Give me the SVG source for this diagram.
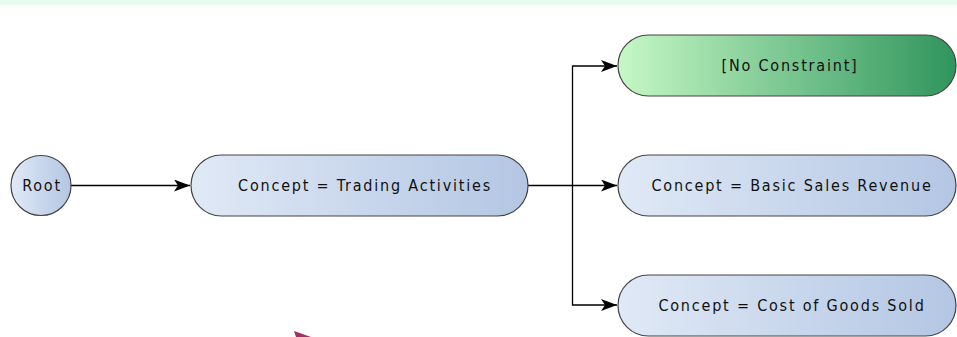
<svg xmlns="http://www.w3.org/2000/svg" width="957" height="337" viewBox="0 0 957 337">
<style>
.node{stroke:#444;stroke-width:1.2}
.blue{fill:url(#gb)}
.green{fill:url(#gg)}
.lbl{font-family:"DejaVu Sans Condensed","DejaVu Sans",sans-serif;font-size:16px;fill:#111;letter-spacing:1.8px;text-anchor:middle}
.edge{fill:none;stroke:#000;stroke-width:1.3}
</style>
<defs>
<linearGradient id="gb" x1="0" y1="0" x2="1" y2="0">
<stop offset="0" stop-color="#e0e9f6"/>
<stop offset="1" stop-color="#b3c6e3"/>
</linearGradient>
<linearGradient id="gg" x1="0" y1="0" x2="1" y2="0">
<stop offset="0" stop-color="#c6f8c6"/>
<stop offset="1" stop-color="#2f955c"/>
</linearGradient>
<marker id="arr" viewBox="0 0 16 12" refX="16" refY="6" markerWidth="16" markerHeight="12" markerUnits="userSpaceOnUse" orient="auto">
<path d="M0,0 L16,6 L0,12 L4,6 Z" fill="#000"/>
</marker>
</defs>
<rect x="0" y="0" width="957" height="5" fill="#e6fcee"/>
<g id="connectors">
<path class="edge" d="M71,185.5 H190" marker-end="url(#arr)"/>
<path class="edge" d="M528,185.5 H617" marker-end="url(#arr)"/>
<path class="edge" d="M572.5,185.5 V66 H617" marker-end="url(#arr)"/>
<path class="edge" d="M572.5,185.5 V305 H617" marker-end="url(#arr)"/>
</g>
<g id="root">
<circle class="node blue" cx="41" cy="185.5" r="30"/>
<text class="lbl" x="42" y="191">Root</text>
</g>
<g id="trading">
<rect class="node blue" x="191" y="155" width="337" height="61" rx="30.5"/>
<text class="lbl" x="365" y="191">Concept = Trading Activities</text>
</g>
<g id="noconstraint">
<rect class="node green" x="618" y="35" width="338" height="61" rx="30.5"/>
<text class="lbl" x="790" y="71">[No Constraint]</text>
</g>
<g id="basic">
<rect class="node blue" x="618" y="155" width="338" height="61" rx="30.5"/>
<text class="lbl" x="792" y="191">Concept = Basic Sales Revenue</text>
</g>
<g id="cogs">
<rect class="node blue" x="618" y="275" width="338" height="61" rx="30.5"/>
<text class="lbl" x="792" y="311">Concept = Cost of Goods Sold</text>
</g>
<polygon points="294,331 311,337 296,337" fill="#a03068"/>
</svg>
